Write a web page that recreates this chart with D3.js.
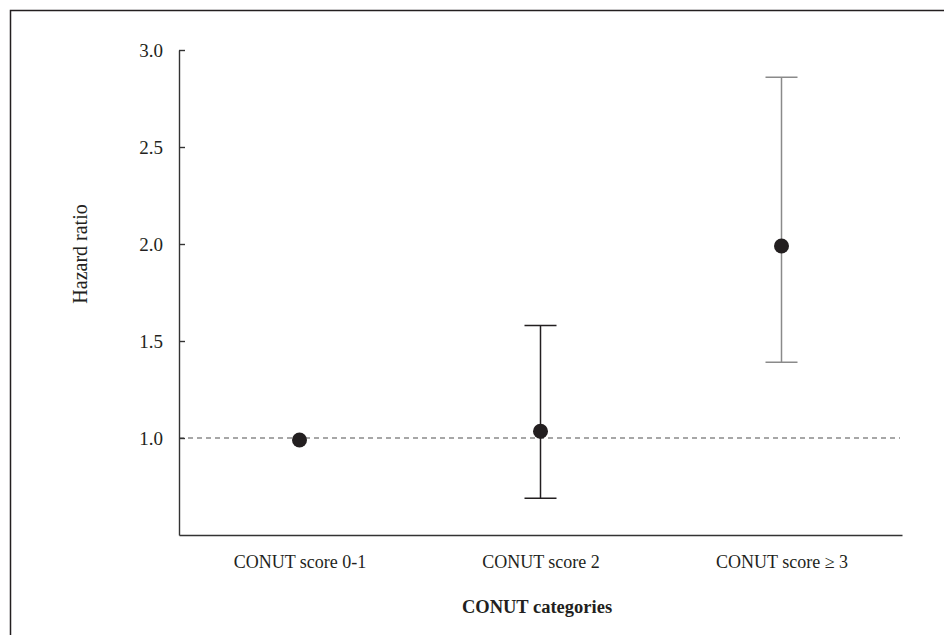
<!DOCTYPE html>
<html>
<head>
<meta charset="utf-8">
<script src="https://cdn.jsdelivr.net/npm/d3@7"></script>
<style>
  html, body { margin: 0; padding: 0; background: #fff; }
  svg { display: block; }
  text { font-family: "Liberation Serif", "Times New Roman", serif; fill: #231f20; }
</style>
</head>
<body>
<svg id="chart" width="944" height="635"></svg>
<script>
// ---- Data ----
const categories = ["CONUT score 0-1", "CONUT score 2", "CONUT score \u2265 3"];
const hazardRatio = [0.99, 1.035, 1.99];
const ciLower = [null, 0.69, 1.39];
const ciUpper = [null, 1.58, 2.86];
const yTicks = [1.0, 1.5, 2.0, 2.5, 3.0];
const referenceValue = [1.0];
const yTitle = "Hazard ratio";
const xTitle = "CONUT categories";

// ---- Layout ----
const W = 944, H = 635;
const plot = { left: 179, right: 902, top: 50, bottom: 535 };
const ciStroke = ["#231f20", "#231f20", "#8a8a8a"];

const svg = d3.select("#chart");

// frame
svg.append("rect")
  .attr("x", 10.5).attr("y", 10.5)
  .attr("width", 960).attr("height", 660)
  .attr("fill", "none").attr("stroke", "#231f20").attr("stroke-width", 1.5);

const x = d3.scalePoint().domain(categories).range([plot.left, plot.right]).padding(0.5);
const y = d3.scaleLinear().domain([0.5, 3.0]).range([plot.bottom, plot.top]);

// reference line
svg.selectAll(".ref").data(referenceValue).join("line")
  .attr("class", "ref")
  .attr("x1", plot.left).attr("x2", plot.right - 2)
  .attr("y1", d => y(d)).attr("y2", d => y(d))
  .attr("stroke", "#8a8a8a").attr("stroke-width", 1.4)
  .attr("stroke-dasharray", "5,4");

// y axis
const yAxis = svg.append("g")
  .attr("transform", `translate(${plot.left},0)`)
  .call(d3.axisLeft(y).tickValues(yTicks).tickFormat(d3.format(".1f"))
    .tickSizeInner(-6).tickSizeOuter(0).tickPadding(16));
yAxis.select(".domain").attr("stroke", "#333").attr("stroke-width", 1.4);
yAxis.selectAll(".tick line").attr("stroke", "#333").attr("stroke-width", 1.4);
yAxis.selectAll(".tick text").style("font-size", "19px").attr("fill", "#231f20");

// x axis
const xAxis = svg.append("g")
  .attr("transform", `translate(0,${plot.bottom})`)
  .call(d3.axisBottom(x).tickSize(0).tickSizeOuter(0).tickPadding(20));
xAxis.select(".domain").attr("stroke", "#333").attr("stroke-width", 1.4);
xAxis.selectAll(".tick text").style("font-size", "18px").attr("fill", "#231f20");

// error bars
const idx = d3.range(categories.length).filter(i => ciLower[i] != null);
const capHalf = 16;
const eb = svg.append("g");
eb.selectAll(".whisker").data(idx).join("line")
  .attr("x1", i => x(categories[i])).attr("x2", i => x(categories[i]))
  .attr("y1", i => y(ciUpper[i])).attr("y2", i => y(ciLower[i]))
  .attr("stroke", i => ciStroke[i]).attr("stroke-width", 1.5);
eb.selectAll(".capU").data(idx).join("line")
  .attr("x1", i => x(categories[i]) - capHalf).attr("x2", i => x(categories[i]) + capHalf)
  .attr("y1", i => y(ciUpper[i])).attr("y2", i => y(ciUpper[i]))
  .attr("stroke", i => ciStroke[i]).attr("stroke-width", 1.5);
eb.selectAll(".capL").data(idx).join("line")
  .attr("x1", i => x(categories[i]) - capHalf).attr("x2", i => x(categories[i]) + capHalf)
  .attr("y1", i => y(ciLower[i])).attr("y2", i => y(ciLower[i]))
  .attr("stroke", i => ciStroke[i]).attr("stroke-width", 1.5);

// points
svg.selectAll(".pt").data(categories).join("circle")
  .attr("class", "pt")
  .attr("cx", d => x(d))
  .attr("cy", (d, i) => y(hazardRatio[i]))
  .attr("r", 7.5)
  .attr("fill", "#231f20");

// titles
svg.append("text")
  .attr("transform", `translate(87,254) rotate(-90)`)
  .attr("text-anchor", "middle")
  .style("font-size", "20px")
  .text(yTitle);

svg.append("text")
  .attr("x", 537).attr("y", 613)
  .attr("text-anchor", "middle")
  .style("font-size", "18.5px").style("font-weight", "bold")
  .text(xTitle);
</script>
</body>
</html>
